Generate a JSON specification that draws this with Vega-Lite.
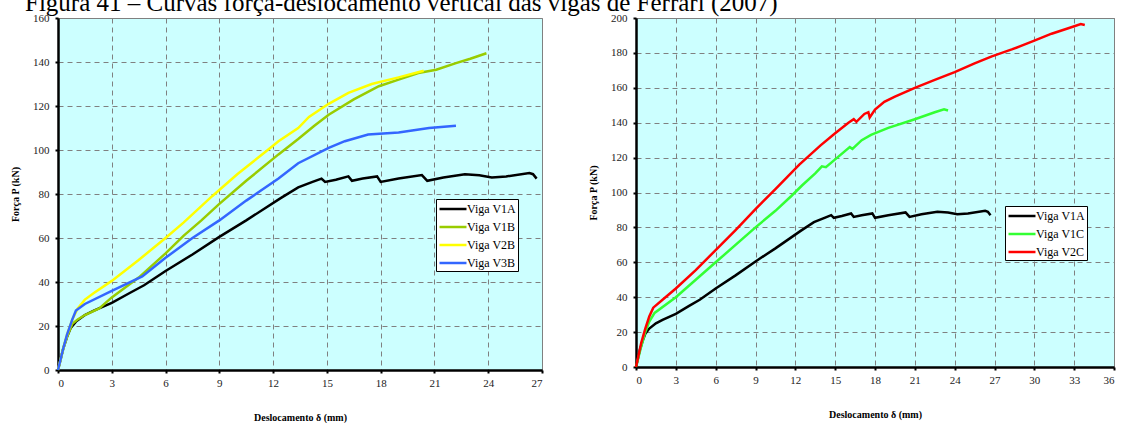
{
  "$schema": "https://vega.github.io/schema/vega-lite/v6.json",
  "padding": {"left": 10, "top": -10, "right": 0, "bottom": 0},
  "background": "white",
  "title": {"text": "Figura 41 – Curvas força-deslocamento vertical das vigas de Ferrari (2007)", "anchor": "start", "font": "Liberation Serif", "fontSize": 25, "fontWeight": "normal", "color": "#000", "baseline": "alphabetic", "offset": -24, "dx": 15},
  "datasets": {
    "v1a": [
      {"serie":"Viga V1A","x":0,"y":0},{"serie":"Viga V1A","x":0.15,"y":5},{"serie":"Viga V1A","x":0.3,"y":10},{"serie":"Viga V1A","x":0.5,"y":15},{"serie":"Viga V1A","x":0.7,"y":19},{"serie":"Viga V1A","x":1.0,"y":22},{"serie":"Viga V1A","x":1.5,"y":25},{"serie":"Viga V1A","x":2,"y":27},{"serie":"Viga V1A","x":3,"y":30.5},{"serie":"Viga V1A","x":4,"y":35},{"serie":"Viga V1A","x":4.8,"y":38.5},{"serie":"Viga V1A","x":6,"y":45},{"serie":"Viga V1A","x":7.5,"y":52.5},{"serie":"Viga V1A","x":9,"y":60.5},{"serie":"Viga V1A","x":10.5,"y":68},{"serie":"Viga V1A","x":12.4,"y":78},{"serie":"Viga V1A","x":13.4,"y":83},{"serie":"Viga V1A","x":14.2,"y":85.5},{"serie":"Viga V1A","x":14.7,"y":87},{"serie":"Viga V1A","x":14.9,"y":85.5},{"serie":"Viga V1A","x":15.5,"y":86.5},{"serie":"Viga V1A","x":16.2,"y":88},{"serie":"Viga V1A","x":16.4,"y":86},{"serie":"Viga V1A","x":17,"y":87},{"serie":"Viga V1A","x":17.8,"y":88},{"serie":"Viga V1A","x":18,"y":85.5},{"serie":"Viga V1A","x":19,"y":87},{"serie":"Viga V1A","x":20.3,"y":88.6},{"serie":"Viga V1A","x":20.6,"y":86},{"serie":"Viga V1A","x":21.5,"y":87.5},{"serie":"Viga V1A","x":22.7,"y":89},{"serie":"Viga V1A","x":23.5,"y":88.5},{"serie":"Viga V1A","x":24.2,"y":87.5},{"serie":"Viga V1A","x":25,"y":88},{"serie":"Viga V1A","x":26.3,"y":89.5},{"serie":"Viga V1A","x":26.5,"y":89},{"serie":"Viga V1A","x":26.7,"y":87}
    ],
    "left": [
      {"serie":"Viga V1B","x":0,"y":0},{"serie":"Viga V1B","x":0.15,"y":5},{"serie":"Viga V1B","x":0.3,"y":10},{"serie":"Viga V1B","x":0.5,"y":15},{"serie":"Viga V1B","x":0.8,"y":21},{"serie":"Viga V1B","x":1.1,"y":23},{"serie":"Viga V1B","x":1.5,"y":25},{"serie":"Viga V1B","x":2.3,"y":28},{"serie":"Viga V1B","x":3,"y":33},{"serie":"Viga V1B","x":4.5,"y":42},{"serie":"Viga V1B","x":6,"y":53},{"serie":"Viga V1B","x":7,"y":61},{"serie":"Viga V1B","x":8,"y":68},{"serie":"Viga V1B","x":9,"y":75.5},{"serie":"Viga V1B","x":10.5,"y":86},{"serie":"Viga V1B","x":12.3,"y":98},{"serie":"Viga V1B","x":13.4,"y":105},{"serie":"Viga V1B","x":14.3,"y":111},{"serie":"Viga V1B","x":15.1,"y":116},{"serie":"Viga V1B","x":16.5,"y":123},{"serie":"Viga V1B","x":17.9,"y":129},{"serie":"Viga V1B","x":19,"y":132},{"serie":"Viga V1B","x":20.1,"y":135},{"serie":"Viga V1B","x":21.1,"y":136.5},{"serie":"Viga V1B","x":22.2,"y":139.5},{"serie":"Viga V1B","x":23,"y":141.5},{"serie":"Viga V1B","x":23.9,"y":144},
      {"serie":"Viga V2B","x":0,"y":0},{"serie":"Viga V2B","x":0.15,"y":5},{"serie":"Viga V2B","x":0.3,"y":10},{"serie":"Viga V2B","x":0.5,"y":16},{"serie":"Viga V2B","x":0.8,"y":23},{"serie":"Viga V2B","x":1.1,"y":28},{"serie":"Viga V2B","x":1.5,"y":32},{"serie":"Viga V2B","x":2,"y":35},{"serie":"Viga V2B","x":3,"y":40.5},{"serie":"Viga V2B","x":4.5,"y":50},{"serie":"Viga V2B","x":6,"y":60},{"serie":"Viga V2B","x":7,"y":67},{"serie":"Viga V2B","x":8.6,"y":79},{"serie":"Viga V2B","x":10,"y":89},{"serie":"Viga V2B","x":11.7,"y":100},{"serie":"Viga V2B","x":12.3,"y":104},{"serie":"Viga V2B","x":13.4,"y":110},{"serie":"Viga V2B","x":14,"y":115},{"serie":"Viga V2B","x":15.1,"y":121},{"serie":"Viga V2B","x":16.2,"y":126},{"serie":"Viga V2B","x":17.5,"y":130},{"serie":"Viga V2B","x":19,"y":133},{"serie":"Viga V2B","x":20.4,"y":136},
      {"serie":"Viga V3B","x":0,"y":0},{"serie":"Viga V3B","x":0.15,"y":5},{"serie":"Viga V3B","x":0.3,"y":10},{"serie":"Viga V3B","x":0.5,"y":16},{"serie":"Viga V3B","x":0.8,"y":23},{"serie":"Viga V3B","x":1.0,"y":27},{"serie":"Viga V3B","x":1.5,"y":30},{"serie":"Viga V3B","x":3,"y":36},{"serie":"Viga V3B","x":4.7,"y":42.5},{"serie":"Viga V3B","x":6,"y":51},{"serie":"Viga V3B","x":7.5,"y":60},{"serie":"Viga V3B","x":9,"y":68},{"serie":"Viga V3B","x":10.5,"y":77},{"serie":"Viga V3B","x":12.3,"y":87},{"serie":"Viga V3B","x":13.4,"y":94},{"serie":"Viga V3B","x":15.1,"y":101},{"serie":"Viga V3B","x":16,"y":104},{"serie":"Viga V3B","x":17.3,"y":107},{"serie":"Viga V3B","x":19,"y":108},{"serie":"Viga V3B","x":20.7,"y":110},{"serie":"Viga V3B","x":22.2,"y":111}
    ],
    "right": [
      {"serie":"Viga V1C","x":0,"y":0},{"serie":"Viga V1C","x":0.2,"y":6},{"serie":"Viga V1C","x":0.4,"y":12},{"serie":"Viga V1C","x":0.7,"y":20},{"serie":"Viga V1C","x":1.0,"y":26},{"serie":"Viga V1C","x":1.4,"y":31},{"serie":"Viga V1C","x":3,"y":40},{"serie":"Viga V1C","x":6,"y":60},{"serie":"Viga V1C","x":9,"y":80},{"serie":"Viga V1C","x":10.5,"y":89.5},{"serie":"Viga V1C","x":11.7,"y":98},{"serie":"Viga V1C","x":12.5,"y":104},{"serie":"Viga V1C","x":13.5,"y":111},{"serie":"Viga V1C","x":14.0,"y":115},{"serie":"Viga V1C","x":14.3,"y":114.5},{"serie":"Viga V1C","x":15,"y":119},{"serie":"Viga V1C","x":16.1,"y":126},{"serie":"Viga V1C","x":16.3,"y":125},{"serie":"Viga V1C","x":17,"y":130},{"serie":"Viga V1C","x":17.7,"y":133},{"serie":"Viga V1C","x":19,"y":137},{"serie":"Viga V1C","x":21,"y":142},{"serie":"Viga V1C","x":22.5,"y":146},{"serie":"Viga V1C","x":23.2,"y":147.7},{"serie":"Viga V1C","x":23.5,"y":147},
      {"serie":"Viga V2C","x":0,"y":0},{"serie":"Viga V2C","x":0.2,"y":7},{"serie":"Viga V2C","x":0.4,"y":14},{"serie":"Viga V2C","x":0.7,"y":22},{"serie":"Viga V2C","x":1.0,"y":29},{"serie":"Viga V2C","x":1.3,"y":34},{"serie":"Viga V2C","x":2,"y":38.5},{"serie":"Viga V2C","x":3,"y":45},{"serie":"Viga V2C","x":4.5,"y":55.5},{"serie":"Viga V2C","x":6,"y":67},{"serie":"Viga V2C","x":7.5,"y":78.5},{"serie":"Viga V2C","x":9,"y":90.5},{"serie":"Viga V2C","x":10.5,"y":102},{"serie":"Viga V2C","x":12.3,"y":116},{"serie":"Viga V2C","x":13.9,"y":127},{"serie":"Viga V2C","x":15,"y":134},{"serie":"Viga V2C","x":16.0,"y":140},{"serie":"Viga V2C","x":16.4,"y":142},{"serie":"Viga V2C","x":16.6,"y":140.5},{"serie":"Viga V2C","x":17.2,"y":145},{"serie":"Viga V2C","x":17.5,"y":146},{"serie":"Viga V2C","x":17.6,"y":143},{"serie":"Viga V2C","x":18.0,"y":147.5},{"serie":"Viga V2C","x":18.7,"y":152},{"serie":"Viga V2C","x":19.5,"y":155},{"serie":"Viga V2C","x":21,"y":160},{"serie":"Viga V2C","x":22.5,"y":164.5},{"serie":"Viga V2C","x":24,"y":169},{"serie":"Viga V2C","x":25.5,"y":174},{"serie":"Viga V2C","x":26.8,"y":178},{"serie":"Viga V2C","x":28.3,"y":182},{"serie":"Viga V2C","x":29,"y":184},{"serie":"Viga V2C","x":30,"y":187},{"serie":"Viga V2C","x":31.3,"y":191},{"serie":"Viga V2C","x":32.5,"y":194},{"serie":"Viga V2C","x":33.5,"y":196.5},{"serie":"Viga V2C","x":33.8,"y":196}
    ]
  },
  "spacing": 44,
  "resolve": {"scale": {"color": "independent", "x": "independent", "y": "independent"}, "legend": {"color": "independent"}},
  "hconcat": [
    {
      "width": 484, "height": 352,
      "encoding": {
        "x": {"field": "x", "type": "quantitative", "scale": {"domain": [0, 27], "nice": false, "zero": false}, "axis": {"values": [0,3,6,9,12,15,18,21,24,27], "title": "Deslocamento δ (mm)"}},
        "y": {"field": "y", "type": "quantitative", "scale": {"domain": [0, 160], "nice": false}, "axis": {"values": [0,20,40,60,80,100,120,140,160], "title": "Força P (kN)"}},
        "color": {"field": "serie", "type": "nominal", "scale": {"domain": ["Viga V1A","Viga V1B","Viga V2B","Viga V3B"], "range": ["#000000","#99cc00","#ffff00","#3366ff"]}, "legend": {"orient": "none", "legendX": 378, "legendY": 181}}
      },
      "layer": [
        {"data": {"name": "v1a"}, "mark": {"type": "line", "strokeWidth": 2.5}},
        {"data": {"name": "left"}, "mark": {"type": "line", "strokeWidth": 2.5}}
      ]
    },
    {
      "width": 478, "height": 349,
      "encoding": {
        "x": {"field": "x", "type": "quantitative", "scale": {"domain": [0, 36], "nice": false, "zero": false}, "axis": {"values": [0,3,6,9,12,15,18,21,24,27,30,33,36], "title": "Deslocamento δ (mm)"}},
        "y": {"field": "y", "type": "quantitative", "scale": {"domain": [0, 200], "nice": false}, "axis": {"values": [0,20,40,60,80,100,120,140,160,180,200], "title": "Força P (kN)"}},
        "color": {"field": "serie", "type": "nominal", "scale": {"domain": ["Viga V1A","Viga V1C","Viga V2C"], "range": ["#000000","#33ff33","#ff0000"]}, "legend": {"orient": "none", "legendX": 369, "legendY": 188}}
      },
      "layer": [
        {"data": {"name": "v1a"}, "mark": {"type": "line", "strokeWidth": 2.5}},
        {"data": {"name": "right"}, "mark": {"type": "line", "strokeWidth": 2.5}}
      ]
    }
  ],
  "config": {
    "view": {"fill": "#ccffff", "stroke": "#808080", "strokeWidth": 1},
    "axis": {"labelFont": "Liberation Serif", "labelFontSize": 11, "labelColor": "#222222", "titleFont": "Liberation Serif", "titleFontSize": 10, "titleFontWeight": "bold", "titleColor": "#000000", "gridColor": "#808080", "gridDash": [5, 4], "gridWidth": 1, "gridOpacity": 1, "domainColor": "#000000", "domainWidth": 2.5, "tickColor": "#000000", "tickSize": 3, "tickWidth": 2, "labelPadding": 4},
    "axisX": {"titlePadding": 24},
    "axisY": {"titlePadding": 12, "labelPadding": 6},
    "legend": {"title": null, "fillColor": "#ffffff", "strokeColor": "#000000", "padding": 2, "symbolType": "M-2,0L2,0", "symbolStrokeWidth": 2.5, "symbolSize": 182, "symbolOffset": 7, "labelFont": "Liberation Serif", "labelFontSize": 12, "labelColor": "#000000", "labelOffset": 6, "rowPadding": 4}
  }
}
